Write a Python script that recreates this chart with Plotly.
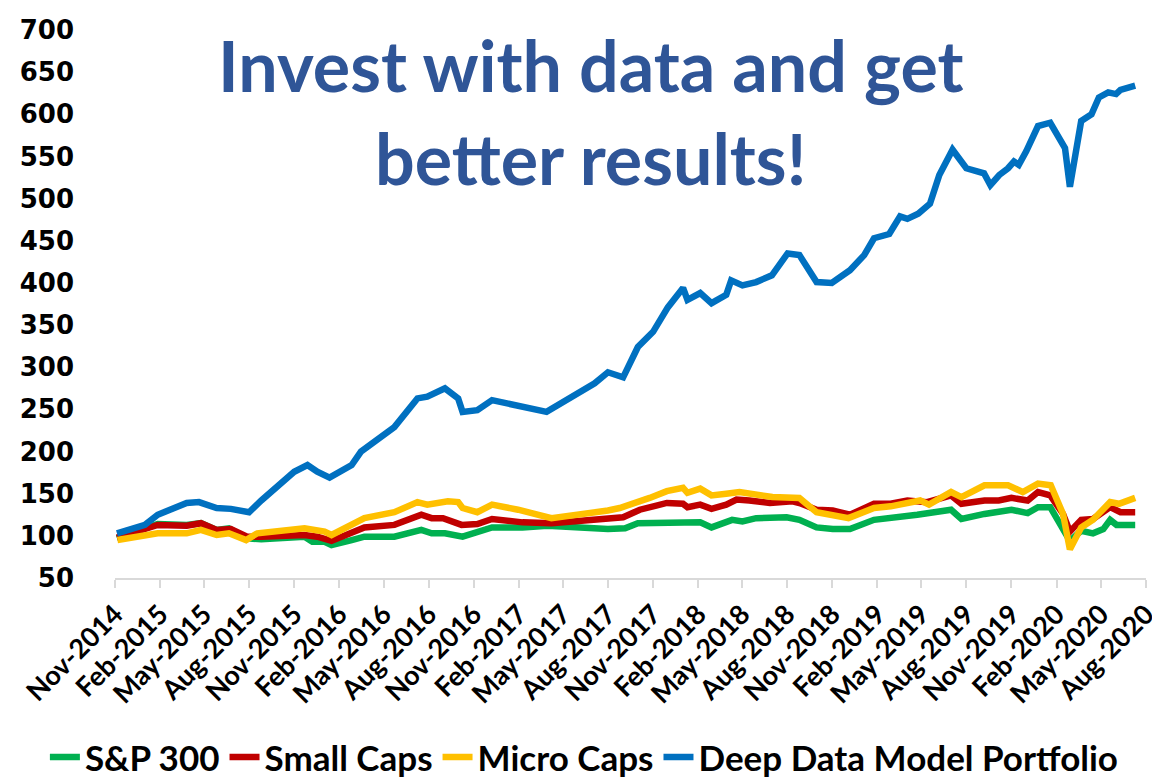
import plotly.graph_objects as go

# fechas de los ejes (cada 3 meses)
tick_dates = ['2014-11-01', '2015-02-01', '2015-05-01', '2015-08-01', '2015-11-01', '2016-02-01',
              '2016-05-01', '2016-08-01', '2016-11-01', '2017-02-01', '2017-05-01', '2017-08-01',
              '2017-11-01', '2018-02-01', '2018-05-01', '2018-08-01', '2018-11-01', '2019-02-01',
              '2019-05-01', '2019-08-01', '2019-11-01', '2020-02-01', '2020-05-01', '2020-08-01']
tick_labels = ['Nov-2014', 'Feb-2015', 'May-2015', 'Aug-2015', 'Nov-2015', 'Feb-2016',
               'May-2016', 'Aug-2016', 'Nov-2016', 'Feb-2017', 'May-2017', 'Aug-2017',
               'Nov-2017', 'Feb-2018', 'May-2018', 'Aug-2018', 'Nov-2018', 'Feb-2019',
               'May-2019', 'Aug-2019', 'Nov-2019', 'Feb-2020', 'May-2020', 'Aug-2020']

# S&P 300
sp_dates = ['2014-11-05', '2015-01-27', '2015-03-27', '2015-04-25', '2015-05-27', '2015-06-21',
            '2015-07-28', '2015-08-26', '2015-11-22', '2015-12-08', '2016-01-02', '2016-01-16',
            '2016-02-26', '2016-03-23', '2016-05-23', '2016-07-17', '2016-08-07', '2016-09-03',
            '2016-10-09', '2016-12-08', '2017-02-08', '2017-03-31', '2017-08-01', '2017-09-05',
            '2017-10-01', '2017-11-29', '2018-02-05', '2018-02-28', '2018-04-11', '2018-05-02',
            '2018-05-30', '2018-07-31', '2018-08-26', '2018-09-30', '2018-11-02', '2018-12-07',
            '2019-01-25', '2019-04-23', '2019-07-01', '2019-07-22', '2019-09-07', '2019-11-01',
            '2019-11-16', '2019-12-04', '2019-12-25', '2020-01-19', '2020-02-14', '2020-02-28',
            '2020-03-22', '2020-04-15', '2020-05-06', '2020-05-20', '2020-06-02', '2020-07-10']
sp_values = [97, 114, 113, 115, 107, 109,
             97, 96, 99, 93, 93, 89,
             95, 99, 99, 107, 103, 103,
             99, 110, 110, 112, 108, 109,
             115, 116, 116, 110, 119, 117,
             121, 122, 119, 110, 108, 108,
             119, 125, 131, 120, 126, 131,
             129, 127, 134, 134, 108, 94,
             106, 103, 108, 119, 113, 113]

# Small Caps
small_dates = ['2014-11-05', '2015-01-27', '2015-03-27', '2015-04-25', '2015-05-27', '2015-06-25',
               '2015-07-28', '2015-08-26', '2015-11-22', '2015-12-18', '2016-01-16', '2016-02-26',
               '2016-03-23', '2016-05-23', '2016-07-17', '2016-08-07', '2016-08-30', '2016-10-07',
               '2016-11-08', '2016-12-08', '2017-02-08', '2017-04-08', '2017-07-15', '2017-09-01',
               '2017-10-05', '2017-11-29', '2018-01-01', '2018-01-10', '2018-02-05', '2018-02-28',
               '2018-03-30', '2018-04-20', '2018-05-16', '2018-06-27', '2018-08-12', '2018-08-26',
               '2018-09-30', '2018-11-02', '2018-12-07', '2019-01-25', '2019-02-28', '2019-04-03',
               '2019-05-13', '2019-07-01', '2019-07-22', '2019-09-07', '2019-10-06', '2019-11-01',
               '2019-12-04', '2019-12-25', '2020-01-19', '2020-02-14', '2020-02-28', '2020-03-22',
               '2020-04-15', '2020-05-20', '2020-06-10', '2020-07-10']
small_values = [98, 113, 112, 115, 107, 108,
                99, 99, 101, 99, 94, 105,
                110, 113, 125, 121, 121, 113,
                114, 120, 116, 115, 119, 122,
                131, 139, 138, 134, 137, 132,
                137, 143, 142, 139, 141, 139,
                131, 130, 125, 138, 138, 142,
                140, 148, 138, 142, 142, 145,
                142, 152, 148, 126, 105, 119,
                120, 134, 128, 128]

# Micro Caps
micro_dates = ['2014-11-06', '2015-01-27', '2015-03-27', '2015-04-25', '2015-05-27', '2015-06-21',
               '2015-07-26', '2015-08-18', '2015-11-22', '2016-01-02', '2016-01-16', '2016-02-26',
               '2016-03-23', '2016-05-23', '2016-07-09', '2016-07-29', '2016-09-09', '2016-09-30',
               '2016-10-09', '2016-11-08', '2016-12-08', '2017-01-30', '2017-04-08', '2017-08-01',
               '2017-08-25', '2017-10-25', '2017-11-29', '2018-01-01', '2018-01-10', '2018-02-05',
               '2018-02-28', '2018-03-30', '2018-04-26', '2018-07-02', '2018-08-26', '2018-09-30',
               '2018-11-02', '2018-12-04', '2019-01-25', '2019-02-28', '2019-04-29', '2019-05-17',
               '2019-07-01', '2019-07-22', '2019-09-07', '2019-10-25', '2019-11-24', '2019-12-25',
               '2020-01-20', '2020-02-14', '2020-02-28', '2020-03-22', '2020-04-15', '2020-05-20',
               '2020-06-07', '2020-07-10']
micro_values = [95, 103, 103, 107, 101, 103,
                95, 103, 109, 105, 101, 113,
                121, 128, 140, 137, 141, 140,
                133, 128, 137, 131, 121, 130,
                133, 145, 153, 157, 151, 156,
                148, 150, 152, 146, 145, 128,
                125, 121, 133, 135, 142, 137,
                152, 146, 160, 160, 152, 162,
                160, 126, 84, 110, 119, 140,
                138, 145]

# Deep Data Model Portfolio
deep_dates = ['2014-11-05', '2015-01-01', '2015-01-27', '2015-03-27', '2015-04-21', '2015-05-27',
              '2015-06-25', '2015-08-01', '2015-08-26', '2015-11-01', '2015-11-28', '2015-12-18',
              '2016-01-12', '2016-02-26', '2016-03-16', '2016-05-23', '2016-07-09', '2016-07-29',
              '2016-09-03', '2016-09-30', '2016-10-09', '2016-11-08', '2016-12-08', '2017-01-30',
              '2017-03-29', '2017-07-05', '2017-08-01', '2017-09-01', '2017-10-01', '2017-11-01',
              '2017-12-01', '2018-01-01', '2018-01-10', '2018-02-05', '2018-02-28', '2018-03-30',
              '2018-04-09', '2018-05-02', '2018-05-30', '2018-07-01', '2018-08-02', '2018-08-26',
              '2018-09-30', '2018-10-31', '2018-12-07', '2019-01-05', '2019-01-25', '2019-02-25',
              '2019-03-19', '2019-04-03', '2019-04-25', '2019-05-19', '2019-06-07', '2019-07-04',
              '2019-08-01', '2019-09-06', '2019-09-19', '2019-10-07', '2019-10-25', '2019-11-06',
              '2019-11-16', '2019-12-01', '2019-12-25', '2020-01-19', '2020-02-12', '2020-02-18',
              '2020-02-28', '2020-03-22', '2020-04-12', '2020-04-27', '2020-05-16', '2020-06-01',
              '2020-06-10', '2020-07-10']
deep_values = [103, 113, 125, 139, 140, 133,
               132, 128, 142, 176, 184, 176,
               169, 184, 200, 229, 263, 265,
               275, 263, 247, 249, 261, 255,
               247, 281, 294, 288, 324, 342,
               371, 394, 380, 388, 376, 386,
               403, 397, 401, 409, 435, 433,
               401, 400, 415, 433, 453, 458,
               479, 476, 482, 494, 528, 558,
               536, 530, 516, 528, 536, 544,
               540, 556, 586, 590, 566, 560,
               514, 592, 600, 620, 626, 624,
               629, 634]

series = [
    ('S&P 300', sp_dates, sp_values, '#00B050'),
    ('Small Caps', small_dates, small_values, '#C00000'),
    ('Micro Caps', micro_dates, micro_values, '#FFC000'),
    ('Deep Data Model Portfolio', deep_dates, deep_values, '#0070C0'),
]

fig = go.Figure()
for nombre, fechas, valores, color in series:
    fig.add_trace(go.Scatter(
        x=fechas, y=valores, name=nombre, mode='lines',
        line=dict(color=color, width=6.5),
    ))

# titulo dentro del area del grafico, una anotacion por linea
titulo_font = dict(family='Lato', size=70, color='#2F5597', weight='bold')
fig.add_annotation(text='Invest with data and get', xref='paper', yref='paper',
                   x=0.461, y=0.936, xanchor='center', yanchor='middle',
                   showarrow=False, font=titulo_font)
fig.add_annotation(text='better results!', xref='paper', yref='paper',
                   x=0.461, y=0.766, xanchor='center', yanchor='middle',
                   showarrow=False, font=titulo_font)

# la pagina deja 8px de margen, por eso la figura es 8px mas chica
fig.update_layout(
    width=1152, height=775,
    margin=dict(l=107, r=14, t=22, b=205, autoexpand=False),
    plot_bgcolor='white', paper_bgcolor='white',
    showlegend=True,
    legend=dict(
        orientation='h', x=-0.068, y=-0.327, xanchor='left', yanchor='middle',
        font=dict(family='Lato', size=35, color='black', weight='bold'),
        itemwidth=30, tracegroupgap=0,
    ),
    xaxis=dict(
        type='date', range=['2014-11-01', '2020-08-01'],
        tickvals=tick_dates, ticktext=tick_labels, tickangle=-45,
        tickfont=dict(family='Lato', size=27, color='black', weight='bold'),
        showgrid=False, showline=True, linecolor='#D9D9D9', linewidth=1.5,
        ticks='outside', ticklen=8, tickcolor='#D9D9D9', tickwidth=1.5,
        automargin=False, ticklabeloverflow='allow',
    ),
    yaxis=dict(
        range=[50, 700], tickvals=list(range(50, 701, 50)),
        tickfont=dict(family='DejaVu Sans', size=26, color='black', weight='bold'),
        showgrid=False, zeroline=False, showline=False, ticks='',
        ticklabelstandoff=40, automargin=False,
    ),
)

fig.write_html('out.html')
